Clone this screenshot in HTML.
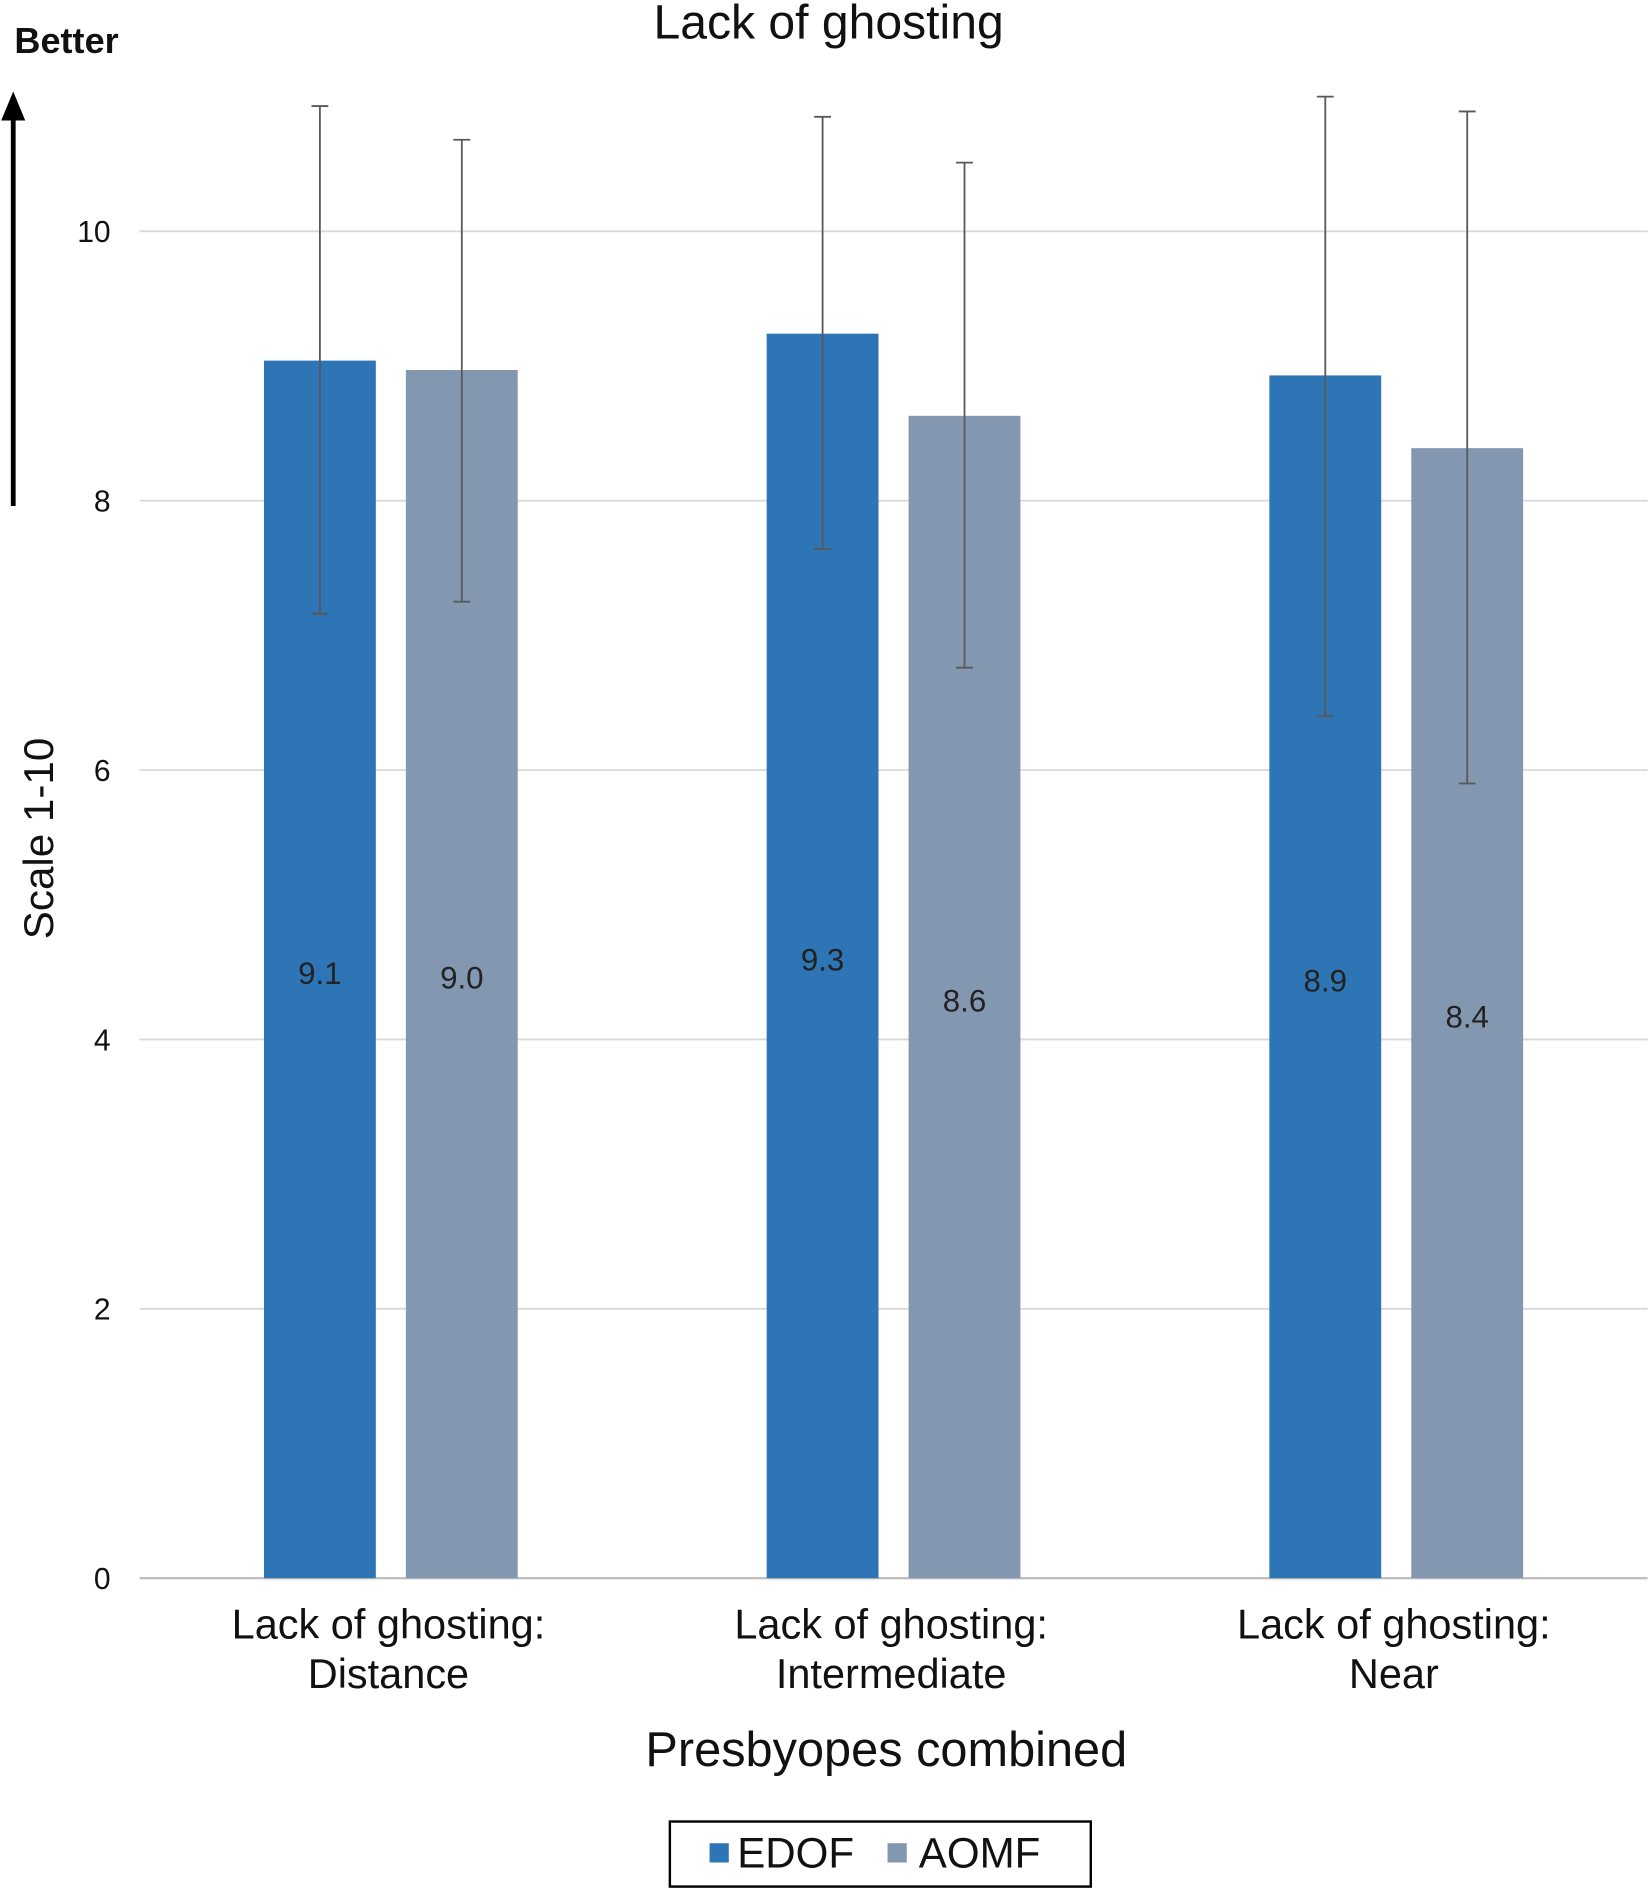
<!DOCTYPE html>
<html><head><meta charset="utf-8"><style>
html,body{margin:0;padding:0;background:#fff;}
svg{display:block;font-family:"Liberation Sans",Arial,sans-serif;}
</style></head><body>
<svg id="chart" width="1650" height="1889" viewBox="0 0 1372 1568" preserveAspectRatio="none" xmlns="http://www.w3.org/2000/svg">
<text x="689" y="32" font-size="40" text-anchor="middle" fill="#111">Lack of ghosting</text>
<text x="12" y="44" font-size="30" font-weight="bold" fill="#111">Better</text>
<g>
<line x1="11" y1="420" x2="11" y2="95" stroke="#000" stroke-width="4"/>
<polygon points="11,76 1,100 21,100" fill="#000"/>
</g>
<text transform="translate(44,696) rotate(-90)" font-size="35" text-anchor="middle" fill="#111">Scale 1-10</text>
<g id="grid"></g>
<g id="bars"></g>
<g id="errs"></g>
<g id="labels"></g>
<text x="737" y="1466" font-size="40.5" text-anchor="middle" fill="#111">Presbyopes combined</text>
<g>
<rect x="557" y="1512" width="350" height="54" fill="#fff" stroke="#000" stroke-width="2"/>
<rect x="590" y="1530" width="16" height="16" fill="#2E75B6"/>
<text x="613" y="1550" font-size="35" fill="#111">EDOF</text>
<rect x="738" y="1530" width="16" height="16" fill="#8497B0"/>
<text x="764" y="1550" font-size="35" fill="#111">AOMF</text>
</g>
</svg>
<script>
const categories = [["Lack of ghosting:","Distance"],["Lack of ghosting:","Intermediate"],["Lack of ghosting:","Near"]];
const edofValues = [9.04, 9.24, 8.93];
const aomfValues = [8.97, 8.63, 8.39];
const edofLabels = ["9.1","9.3","8.9"];
const aomfLabels = ["9.0","8.6","8.4"];
const edofHigh = [10.93, 10.85, 11.0];
const edofLow = [7.16, 7.64, 6.40];
const aomfHigh = [10.68, 10.51, 10.89];
const aomfLow = [7.25, 6.76, 5.90];
const yTicks = [0,2,4,6,8,10];

const NS="http://www.w3.org/2000/svg";
const plotL=116, plotR=1370, y0=1310, yTop=192;
const y=v=>y0-(y0-yTop)*v/10;
const groupW=(plotR-plotL)/categories.length;
const barW=93, gap=25;
function el(t,a,p){const e=document.createElementNS(NS,t);for(const k in a)e.setAttribute(k,a[k]);document.getElementById(p).appendChild(e);return e;}

yTicks.forEach(t=>{
  const l=el('line',{x1:plotL,x2:plotR,y1:y(t),y2:y(t),stroke:t===0?'#bfbfbf':'#d9d9d9','stroke-width':t===0?2:1.5},'grid');
  
  
  const tx=el('text',{x:92,y:y(t)+9,'font-size':25,'text-anchor':'end',fill:'#111'},'grid');
  tx.textContent=t;
  
  
});

categories.forEach((c,i)=>{
  const cx=plotL+groupW*(i+0.5);
  const series=[[edofValues,edofLabels,edofHigh,edofLow,'#2E75B6','edof',cx-gap/2-barW],[aomfValues,aomfLabels,aomfHigh,aomfLow,'#8497B0','aomf',cx+gap/2]];
  series.forEach(s=>{
    const v=s[0][i], x=s[6];
    const r=el('rect',{x:x,y:y(v),width:barW,height:y0-y(v),fill:s[4]},'bars');
    
    
    const mx=x+barW/2;
    const e=el('g',{stroke:'#595959','stroke-width':1.5},'errs');
    
    
    [['line',{x1:mx,x2:mx,y1:y(s[2][i]),y2:y(s[3][i])}],['line',{x1:mx-7,x2:mx+7,y1:y(s[2][i]),y2:y(s[2][i])}],['line',{x1:mx-7,x2:mx+7,y1:y(s[3][i]),y2:y(s[3][i])}]].forEach(d=>{const l=document.createElementNS(NS,d[0]);for(const k in d[1])l.setAttribute(k,d[1][k]);e.appendChild(l);});
    const t=el('text',{x:mx,y:y(v/2)+12,'font-size':26,'text-anchor':'middle',fill:'#222'},'labels');
    t.textContent=s[1][i];
    
    
  });
  c.forEach((line,k)=>{
    const t=el('text',{x:cx-2,y:1360+k*41,'font-size':34.5,'text-anchor':'middle',fill:'#111'},'labels');
    t.textContent=line;
    
    
  });
});
</script>
</body></html>
